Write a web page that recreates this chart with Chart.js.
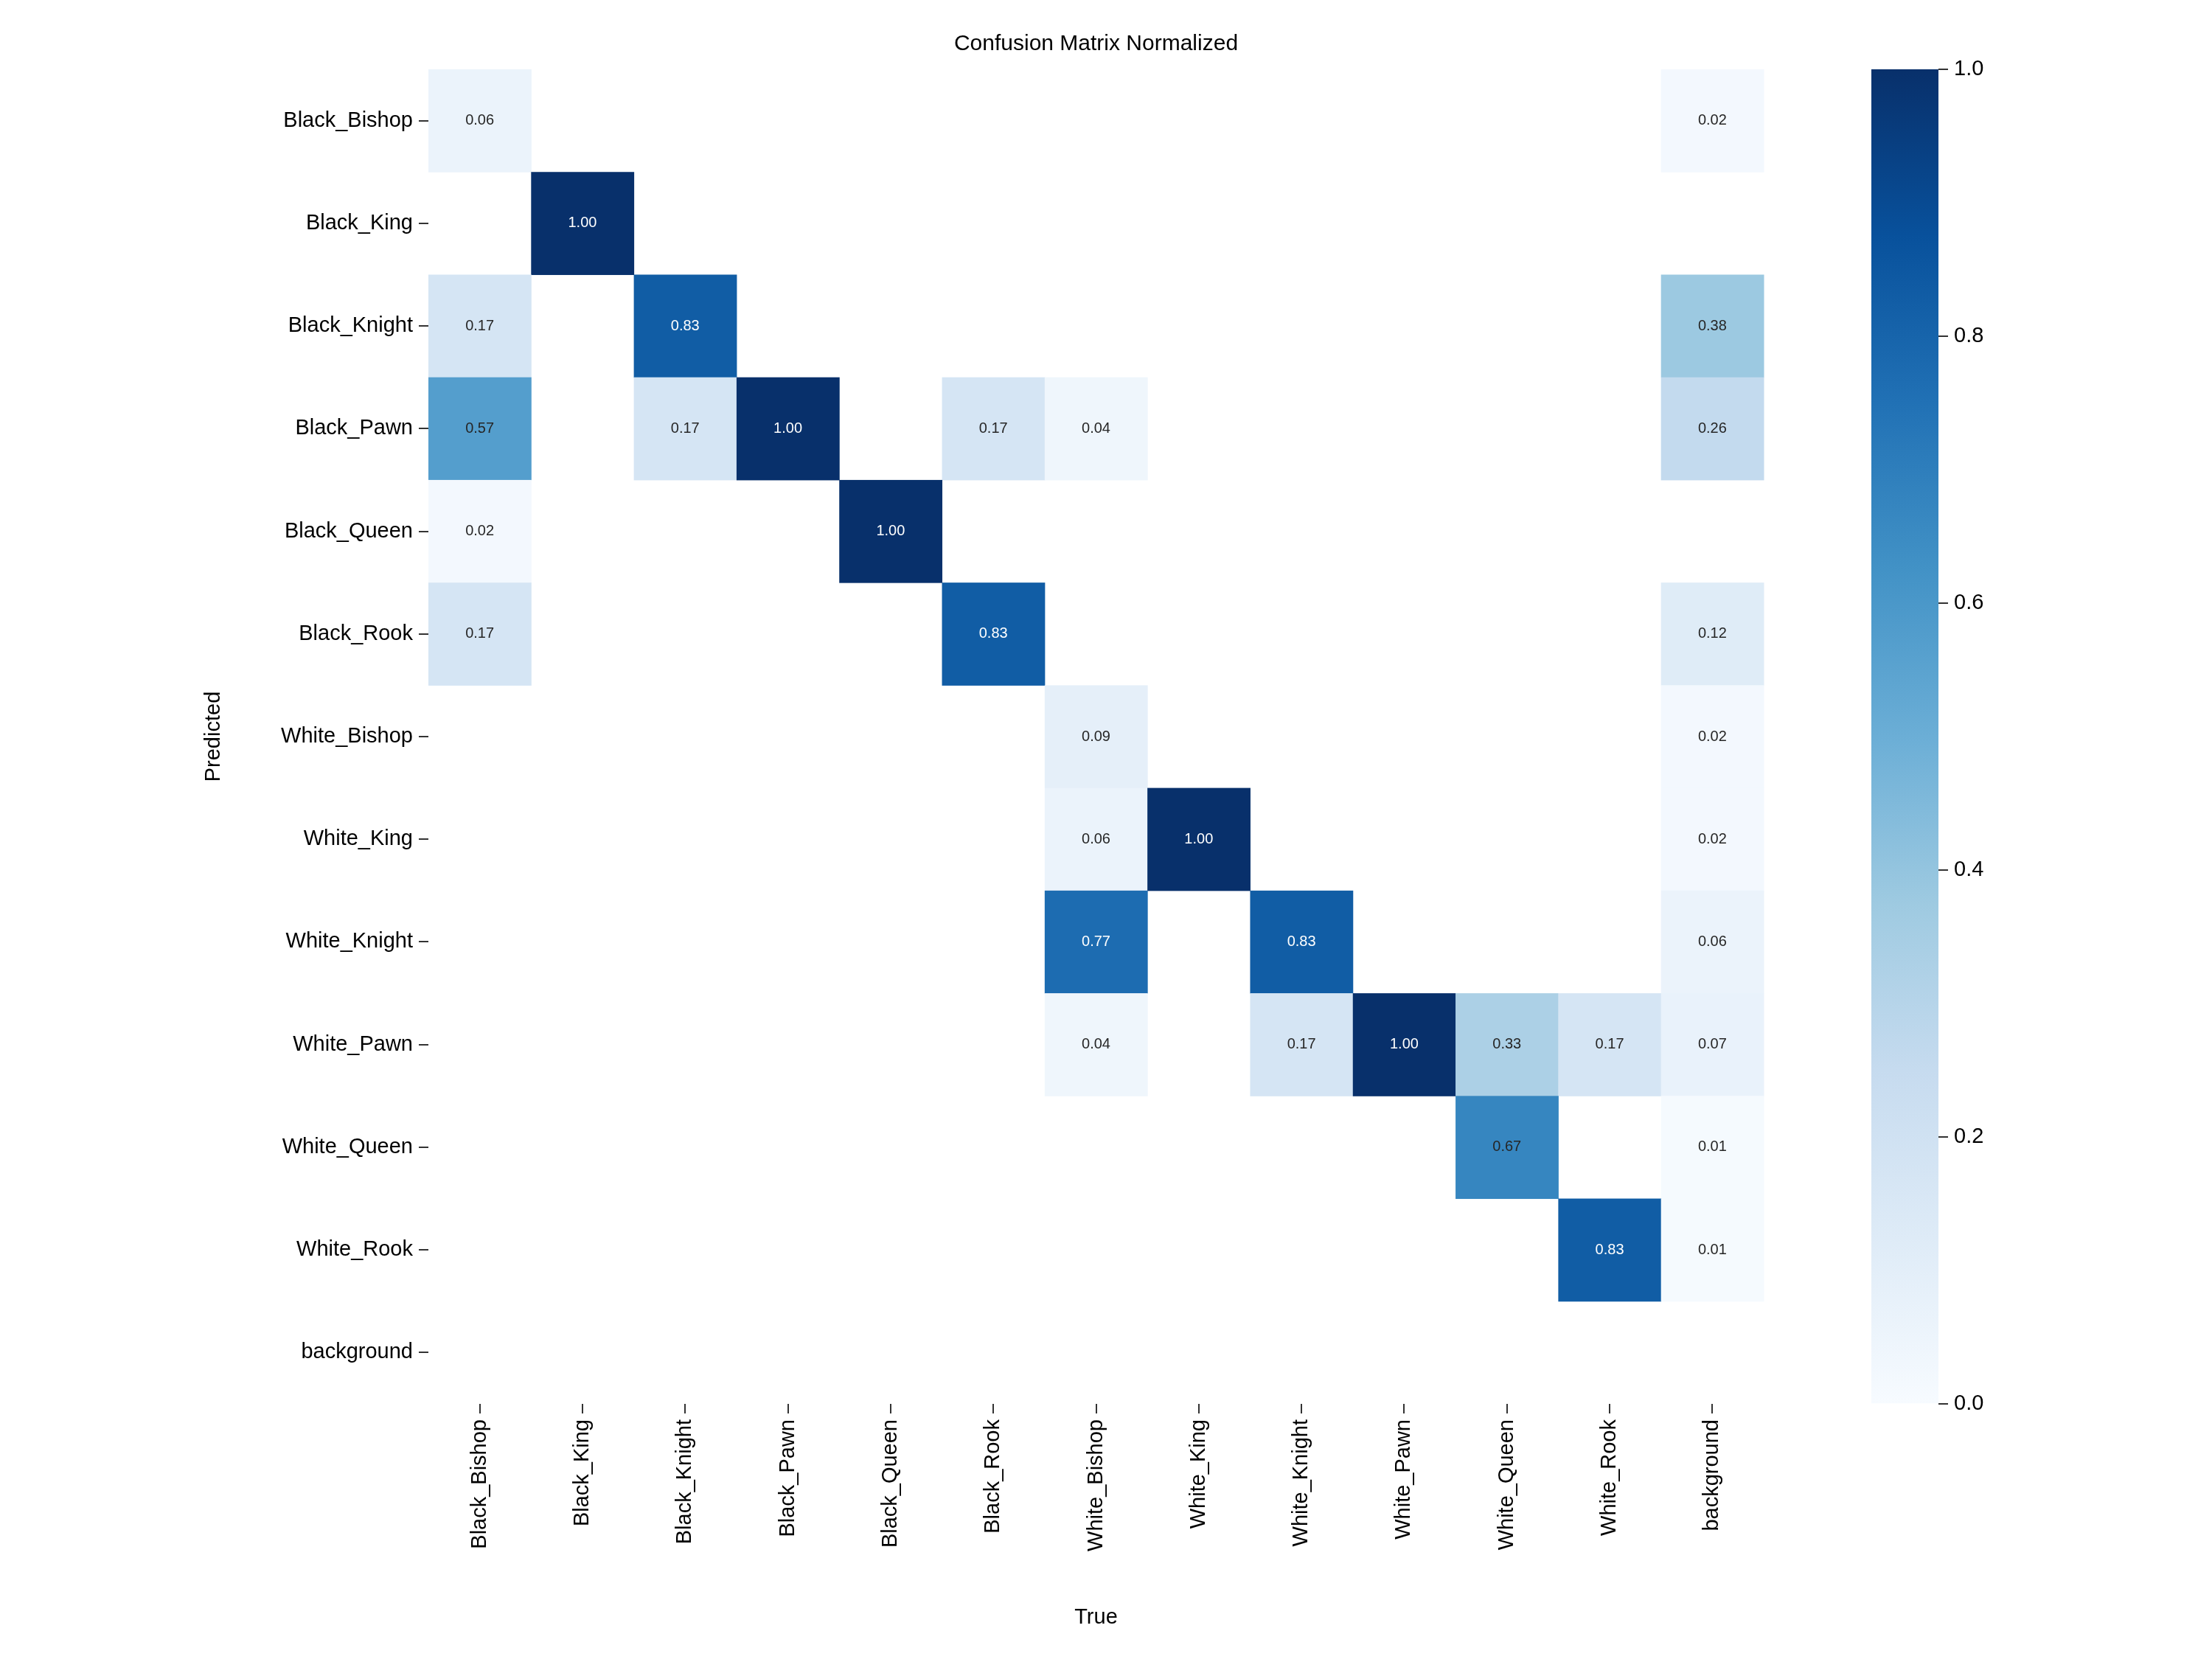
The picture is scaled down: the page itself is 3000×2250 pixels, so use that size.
<!DOCTYPE html>
<html><head><meta charset="utf-8">
<script src="https://cdn.jsdelivr.net/npm/chart.js@4/dist/chart.umd.min.js"></script>
<style>body{margin:0;background:#fff}#wrap{position:relative;width:3000px;height:2250px}canvas{position:absolute}</style>
</head><body><div id="wrap"><canvas id="m" width="3000" height="2250" style="left:0;top:0;width:3000px;height:2250px"></canvas><canvas id="cb" width="462" height="2250" style="left:2538px;top:0;width:462px;height:2250px"></canvas></div>
<script>
const labels=["Black_Bishop","Black_King","Black_Knight","Black_Pawn","Black_Queen","Black_Rook","White_Bishop","White_King","White_Knight","White_Pawn","White_Queen","White_Rook","background"];
const cellRow=[0,0,1,2,2,2,3,3,3,3,3,3,4,4,5,5,5,6,6,7,7,7,8,8,8,9,9,9,9,9,9,10,10,11,11];
const cellCol=[0,12,1,0,2,12,0,2,3,5,6,12,0,4,0,5,12,6,12,6,7,12,6,8,12,6,8,9,10,11,12,10,12,11,12];
const cellVal=[0.06,0.02,1.00,0.17,0.83,0.38,0.57,0.17,1.00,0.17,0.04,0.26,0.02,1.00,0.17,0.83,0.12,0.09,0.02,0.06,1.00,0.02,0.77,0.83,0.06,0.04,0.17,1.00,0.33,0.17,0.07,0.67,0.01,0.83,0.01];
const cbTicks=[0,0.2,0.4,0.6,0.8,1.0];
const stops=["#f7fbff","#deebf7","#c6dbef","#9ecae1","#6baed6","#4292c6","#2171b5","#08519c","#08306b"];
function hex(h){return [1,3,5].map(i=>parseInt(h.substr(i,2),16));}
function blues(v){v=Math.max(0,Math.min(1,v));const p=v*8,i=Math.min(7,Math.floor(p)),t=p-i;const a=hex(stops[i]),b=hex(stops[i+1]);return `rgb(${a.map((x,k)=>Math.round(x+(b[k]-x)*t)).join(',')})`;}
const F="'Liberation Sans', Arial, sans-serif";
const pts=cellVal.map((v,i)=>({x:labels[cellCol[i]],y:labels[cellRow[i]],v}));
const heat={id:'heat',beforeDatasetsDraw(c){const ctx=c.ctx,xs=c.scales.x,ys=c.scales.y;const w=xs.width/labels.length,h=ys.height/labels.length;
ctx.save();ctx.textAlign='center';ctx.textBaseline='middle';ctx.font="20px "+F;
pts.forEach(p=>{const cx=xs.getPixelForValue(labels.indexOf(p.x)),cy=ys.getPixelForValue(labels.indexOf(p.y));ctx.fillStyle=blues(p.v);ctx.fillRect(cx-w/2,cy-h/2,w+0.5,h+0.5);});
pts.forEach(p=>{const cx=xs.getPixelForValue(labels.indexOf(p.x)),cy=ys.getPixelForValue(labels.indexOf(p.y));ctx.fillStyle=p.v>0.7?'#fff':'#262626';ctx.fillText(p.v.toFixed(2),cx,cy);});
ctx.fillStyle='#000';ctx.font="30px "+F;ctx.fillText('Confusion Matrix Normalized',(xs.left+xs.right)/2,60);
ctx.font="29px "+F;ctx.fillText('True',(xs.left+xs.right)/2,2194);
ctx.translate(290,(ys.top+ys.bottom)/2);ctx.rotate(-Math.PI/2);ctx.fillText('Predicted',0,0);ctx.restore();}};
new Chart(document.getElementById('m'),{type:'scatter',data:{datasets:[{data:pts,pointRadius:0}]},
options:{responsive:false,animation:false,devicePixelRatio:1,layout:{padding:{top:94,right:608,left:0,bottom:0}},plugins:{legend:{display:false},tooltip:{enabled:false}},
scales:{x:{type:'category',labels:labels,offset:true,afterFit:s=>{s.height=346;},grid:{drawOnChartArea:false,tickLength:13,color:'#333',lineWidth:2},border:{display:false},ticks:{maxRotation:90,minRotation:90,color:'#000',padding:8,font:{size:29,family:F}}},
y:{type:'category',labels:labels,offset:true,afterFit:s=>{s.width=581;},grid:{drawOnChartArea:false,tickLength:13,color:'#333',lineWidth:2},border:{display:false},ticks:{color:'#000',padding:8,font:{size:29,family:F}}}}},plugins:[heat]});
new Chart(document.getElementById('cb'),{type:'bar',data:{labels:['c'],datasets:[{data:[1],barPercentage:1,categoryPercentage:1,backgroundColor:(ctx)=>{const a=ctx.chart.chartArea;if(!a)return '#fff';const g=ctx.chart.ctx.createLinearGradient(0,a.bottom,0,a.top);stops.forEach((s,i)=>g.addColorStop(i/8,s));return g;}}]},
options:{responsive:false,animation:false,devicePixelRatio:1,layout:{padding:{top:94,bottom:346,left:0,right:0}},plugins:{legend:{display:false},tooltip:{enabled:false}},
scales:{x:{display:false},y:{position:'right',min:0,max:1,afterBuildTicks:s=>{s.ticks=cbTicks.map(v=>({value:v}));},afterFit:s=>{s.width=371;},grid:{drawOnChartArea:false,tickLength:13,color:'#333',lineWidth:2},border:{display:false},ticks:{color:'#000',padding:8,font:{size:29,family:F},callback:v=>Number(v).toFixed(1)}}}}});
</script></body></html>
